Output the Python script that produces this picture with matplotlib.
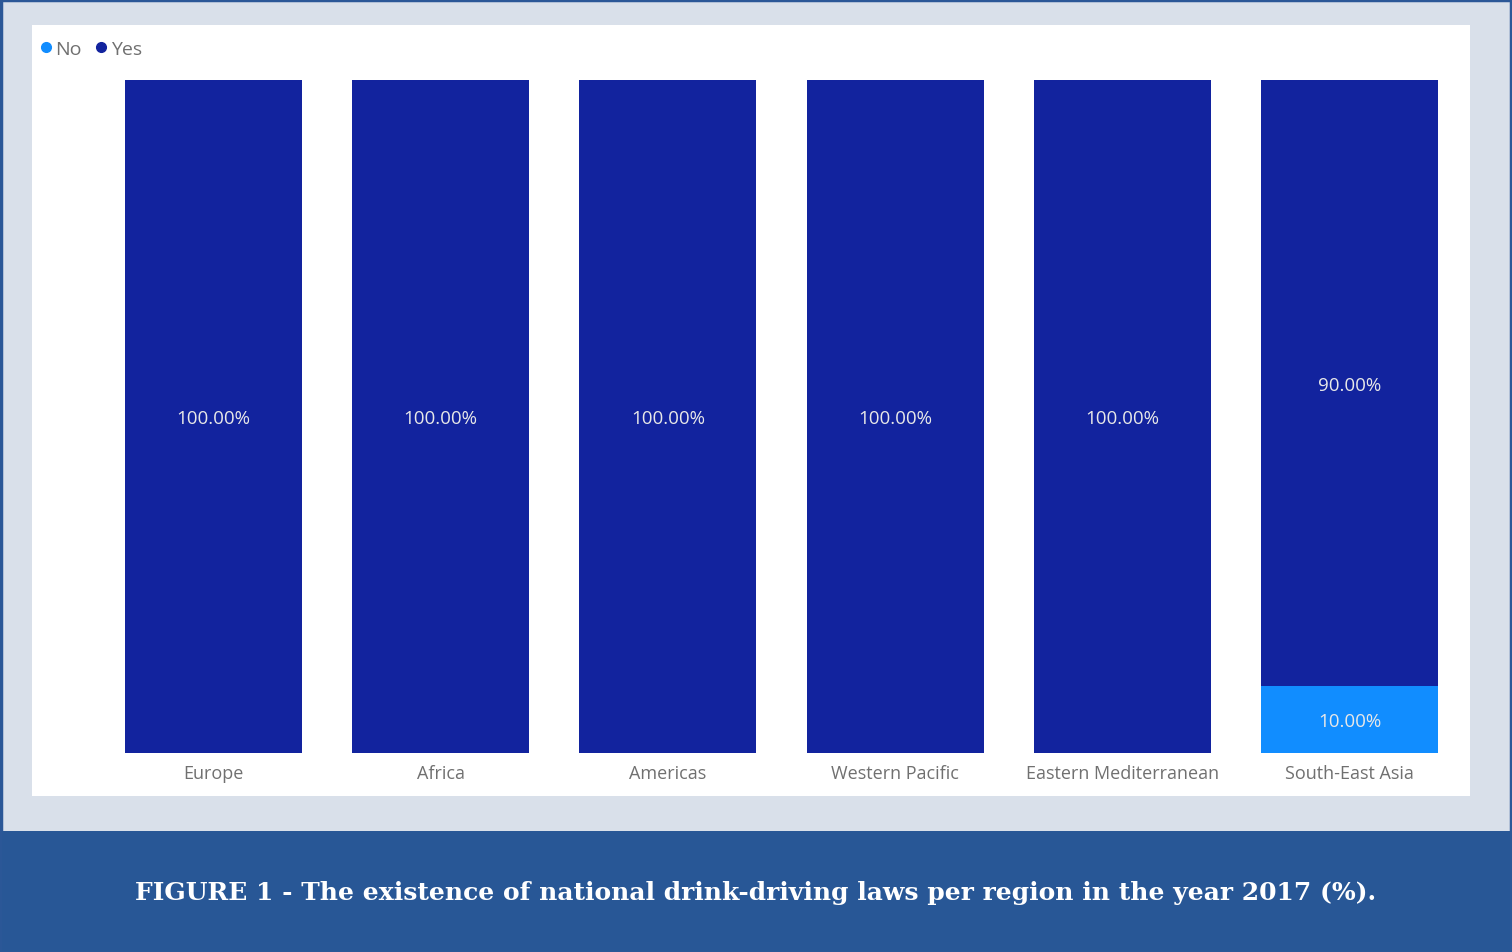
import matplotlib.pyplot as plt
from matplotlib.patches import Rectangle
from matplotlib.lines import Line2D

regions = ["Europe", "Africa", "Americas", "Western Pacific",
           "Eastern Mediterranean", "South-East Asia"]
no_pct = [0, 0, 0, 0, 0, 10]
yes_pct = [100, 100, 100, 100, 100, 90]

c_no = "#118DFF"
c_yes = "#12239E"
W, H = 1512, 953

fig = plt.figure(figsize=(W / 100, H / 100), dpi=100)
fig.patch.set_facecolor("#D9E0EA")

def px_rect(x0, y0, x1, y1, **kw):
    # rectangle given in pixel coords from top-left
    r = Rectangle((x0 / W, 1 - y1 / H), (x1 - x0) / W, (y1 - y0) / H,
                  transform=fig.transFigure, zorder=-5, **kw)
    fig.patches.append(r)

px_rect(1, 1, W - 1, H - 1, facecolor="none", edgecolor="#2B5797", lw=2.5)
px_rect(32, 26, 1470, 797, facecolor="white", edgecolor="none")
px_rect(2, 832, W - 2, H - 1, facecolor="#285796", edgecolor="none")

# axes spans bars area
L, R, T, B = 125, 1438, 81, 754
ax = fig.add_axes([L / W, 1 - B / H, (R - L) / W, (B - T) / H])
ax.set_facecolor("none")
x = list(range(len(regions)))
w = 177 / 227
ax.bar(x, no_pct, width=w, color=c_no, label="No")
ax.bar(x, yes_pct, width=w, bottom=no_pct, color=c_yes, label="Yes")
ax.set_xlim(-w / 2, len(regions) - 1 + w / 2)
ax.set_ylim(0, 100)
for s in ax.spines.values():
    s.set_visible(False)
ax.set_yticks([])
ax.set_xticks(x)
ax.set_xticklabels(regions, fontsize=13, color="#707070", family="Open Sans")
ax.tick_params(axis="x", length=0, pad=8)

for i in x:
    if no_pct[i] > 0:
        ax.text(i, no_pct[i] / 2, f"{no_pct[i]:.2f}%", ha="center",
                va="center_baseline", color="#E8E8E8", fontsize=13.5,
                family="Open Sans")
    ax.text(i, no_pct[i] + yes_pct[i] / 2, f"{yes_pct[i]:.2f}%", ha="center",
            va="center_baseline", color="#E8E8E8", fontsize=13.5,
            family="Open Sans")

handles = [Line2D([], [], marker="o", ls="", color=c_no, markersize=7),
           Line2D([], [], marker="o", ls="", color=c_yes, markersize=7)]
fig.legend(handles, ["No", "Yes"], loc="center left",
           bbox_to_anchor=(36 / W, 1 - 50 / H), ncol=2, frameon=False,
           borderpad=0, borderaxespad=0,
           handletextpad=0.0, columnspacing=0.5, handlelength=1.0,
           prop={"family": "Open Sans", "size": 14}, labelcolor="#707070")

fig.text(0.5, 1 - 893 / H,
         "FIGURE 1 - The existence of national drink-driving laws per region in the year 2017 (%).",
         ha="center", va="center", color="white", fontsize=18,
         family="DejaVu Serif", weight="bold")

fig.savefig("out.png", dpi=100, facecolor=fig.get_facecolor())
